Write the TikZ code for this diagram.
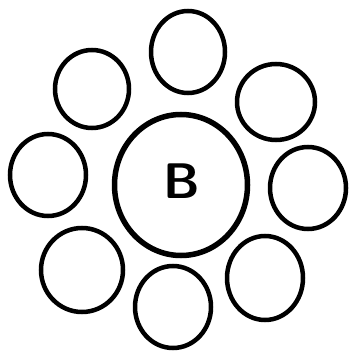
\documentclass[tikz,border=0pt]{standalone}
\usepackage{tikz}
\usetikzlibrary{shapes,positioning}

\begin{document}
\begin{tikzpicture}[x=1pt, y=-1pt, thick]
  \tikzstyle{petal} = [ellipse, draw, line width=4.5pt, inner sep=0pt]
  \tikzstyle{hub} = [ellipse, draw, line width=5.5pt, inner sep=0pt, minimum width=133pt, minimum height=141pt]

  \useasboundingbox (0,0) rectangle (349,352);

  \node[hub] (center) at (181,185) {};
  \node (label) at (182,181) {\fontsize{50}{50}\selectfont\sffamily\bfseries B};

  \node[petal, minimum width=74pt, minimum height=82pt] (top) at (188,52) {};
  \node[petal, minimum width=74pt, minimum height=78pt] (upleft) at (92,89) {};
  \node[petal, minimum width=78pt, minimum height=76pt] (upright) at (276,102) {};
  \node[petal, minimum width=76pt, minimum height=82pt] (left) at (48,175) {};
  \node[petal, minimum width=76pt, minimum height=82pt] (right) at (308,188) {};
  \node[petal, minimum width=82pt, minimum height=84pt] (lowleft) at (82,270) {};
  \node[petal, minimum width=76pt, minimum height=82pt] (bottom) at (173,307) {};
  \node[petal, minimum width=76pt, minimum height=84pt] (lowright) at (265,278) {};
\end{tikzpicture}
\end{document}
